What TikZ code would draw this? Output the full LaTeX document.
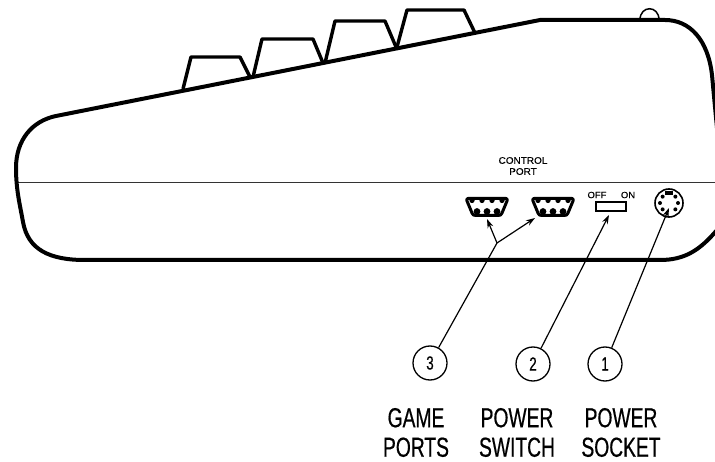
\documentclass[tikz,border=0pt]{standalone}
\usepackage{fontspec}
\setmainfont{Liberation Sans}
\newfontfamily\labelfont[FakeStretch=0.7,FakeBold=0.5]{Liberation Sans}
\newfontfamily\smallfont[FakeStretch=1.05,FakeBold=0.25]{Liberation Sans}
\usetikzlibrary{arrows.meta}
\tikzset{
  body/.style={draw=black,line width=4pt,line join=round,line cap=round},
  keycap/.style={draw=black,line width=3.4pt,line join=round},
  seam/.style={draw=black!80,line width=1.2pt},
  lead/.style={draw=black,line width=1.2pt},
  leadarrow/.style={lead,-{Stealth[length=9pt,width=6pt]}},
  callout/.style={circle,draw=black,line width=1.3pt,minimum size=34pt,inner sep=0pt,font=\fontsize{19}{19}\labelfont},
  caption/.style={align=center,inner sep=0pt,font=\fontsize{27.5}{29.5}\labelfont},
  tiny/.style={inner sep=0pt,align=center,font=\fontsize{9.5}{12}\smallfont},
  port/.style={draw=black,fill=white,line width=3pt,line join=round}
}
\newcommand{\gameport}[1]{%
  \begin{scope}[shift={(#1)}]
    \path[port] (-19,-8.5) -- (19,-8.5) .. controls (20.5,-8.5) and (20.5,-7) .. (20,-6) -- (15,6) .. controls (14.5,8) and (13,8.5) .. (11,8.5) -- (-11,8.5) .. controls (-13,8.5) and (-14.5,8) .. (-15,6) -- (-20,-6) .. controls (-20.5,-7) and (-20.5,-8.5) .. (-19,-8.5) -- cycle;
    \foreach \px in {-15,-5,5,15}{\fill[black] (\px,-6.5) circle (2.6pt);}
    \foreach \px in {-10,0,10}{\fill[black] (\px,4.5) circle (3.4pt);}
  \end{scope}}
\begin{document}
\begin{tikzpicture}[x=1pt,y=-1pt]
\useasboundingbox (0,0) rectangle (715,462);
\fill[white] (0,0) rectangle (715,462);
% seam
\path[seam] (18,182.5) -- (715,182.5);
% case outline
\path[body] (717,128) -- (712,75) .. controls (708,40) and (690,20) .. (665,20) -- (540,20)
  -- (56,116) .. controls (32,121) and (16,140) .. (16,168)
  .. controls (16,190) and (20,205) .. (23,222)
  .. controls (28,250) and (50,260) .. (85,260) -- (660,260) .. controls (685,260) and (700,250) .. (717,230);
% power bump
\draw[draw=black,line width=1.5pt] (640,20) .. controls (640,5) and (659,5) .. (659,20);
% keys
\path[keycap] (183,89) -- (191,57) -- (240,57) -- (250,77);
\path[keycap] (253,77) -- (262,39) -- (313,39) -- (323,63);
\path[keycap] (325,63) -- (335,21) -- (385,21) -- (396,47);
\path[keycap] (397,47) -- (407,10) -- (464,10) -- (475,33);
% labels and parts
\node[tiny] (ctl) at (523,166) {CONTROL\\[-1pt]PORT};
\gameport{487,207}
\gameport{553,207}
\node[tiny,font=\fontsize{9}{10}\smallfont] (off) at (597,195) {OFF};
\node[tiny,font=\fontsize{9}{10}\smallfont] (on) at (628,195) {ON};
\node[draw=black,line width=1.5pt,minimum width=30pt,minimum height=9pt,inner sep=0pt] (switch) at (611,206.5) {};
\node[circle,draw=black,line width=1.6pt,minimum size=28pt,inner sep=0pt] (socket) at (669,203) {};
\foreach \a in {0,45,135,180,225,315}{\fill[black] (669,203) ++(\a:9) circle (2pt);}
\fill[black] (665,191.5) rectangle (673,195);
% callouts
\node[callout] (c3) at (430,363) {3};
\node[callout] (c2) at (533,364) {2};
\node[callout] (c1) at (605,364) {1};
\coordinate (fork) at (497,243);
\coordinate (t3a) at (487,219);
\coordinate (t3b) at (535,218);
\coordinate (t2) at (609,215);
\coordinate (t1) at (669,208);
\draw[lead] (c3) -- (fork);
\draw[leadarrow] (fork) -- (t3a);
\draw[leadarrow] (fork) -- (t3b);
\draw[leadarrow] (c2) -- (t2);
\draw[leadarrow] (c1) -- (t1);
% captions
\node[caption] (cap3) at (416,432.5) {GAME\\PORTS};
\node[caption] (cap2) at (517,432.5) {POWER\\SWITCH};
\node[caption] (cap1) at (621,432.5) {POWER\\SOCKET};
\end{tikzpicture}
\end{document}
